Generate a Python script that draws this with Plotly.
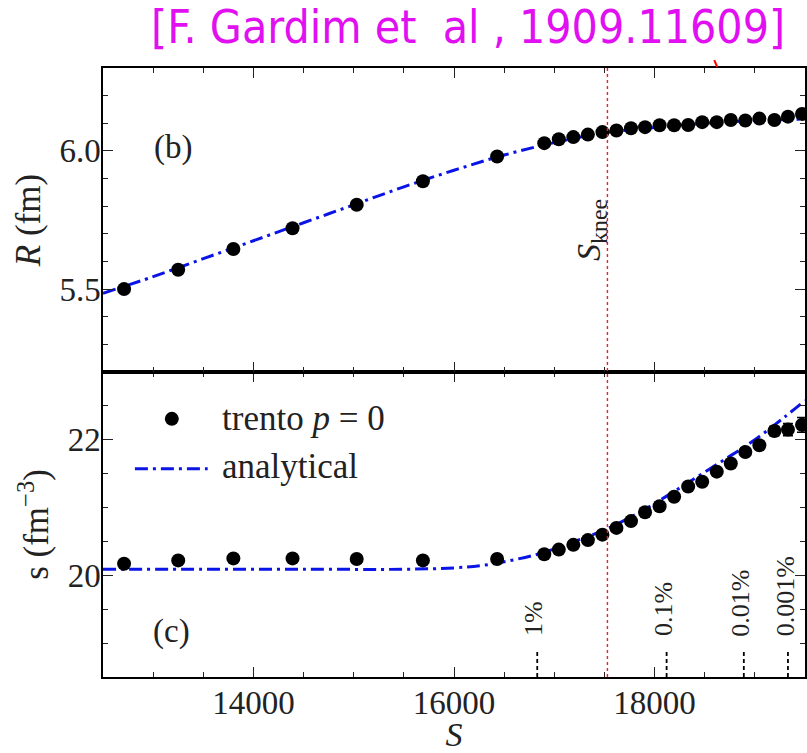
import plotly.graph_objects as go

# trento (p = 0) results versus total entropy S
S_trento = [12710, 13250, 13800, 14390, 15030, 15690, 16430, 16900, 17045, 17190,
            17335, 17480, 17620, 17765, 17905, 18050, 18195, 18335, 18475, 18620,
            18760, 18905, 19045, 19195, 19330, 19470]
R_trento = [5.50, 5.57, 5.645, 5.72, 5.805, 5.89, 5.98, 6.028, 6.042, 6.05,
            6.059, 6.068, 6.074, 6.082, 6.086, 6.093, 6.093, 6.094, 6.104, 6.104,
            6.112, 6.11, 6.117, 6.112, 6.124, 6.134]
s_trento = [20.17, 20.22, 20.25, 20.25, 20.24, 20.22, 20.24, 20.31, 20.38, 20.45,
            20.52, 20.60, 20.70, 20.80, 20.93, 21.02, 21.16, 21.31, 21.38, 21.53,
            21.65, 21.82, 21.92, 22.13, 22.15, 22.22]
s_trento_err = [0, 0, 0, 0, 0, 0, 0, 0, 0, 0,
                0, 0, 0, 0, 0, 0, 0, 0, 0, 0,
                0, 0.03, 0.05, 0.07, 0.09, 0.11]

# analytical curves
S_curve_R = [12500, 13000, 13500, 14000, 14500, 15000, 15500, 16000, 16500,
             17000, 17500, 18000, 18500, 19000, 19500]
R_curve = [5.485, 5.545, 5.61, 5.675, 5.74, 5.805, 5.87, 5.93, 5.985,
           6.03, 6.065, 6.085, 6.10, 6.11, 6.115]
S_curve_s = [12500, 13500, 14500, 15500, 16000, 16300, 16600, 16900, 17200,
             17500, 17800, 18100, 18400, 18700, 19000, 19300, 19500]
s_curve = [20.09, 20.09, 20.09, 20.09, 20.11, 20.15, 20.23, 20.34, 20.50,
           20.67, 20.89, 21.15, 21.43, 21.71, 22.0, 22.34, 22.58]

# knee position and centrality markers
S_knee = 17530
cent_S = [16830, 18120, 18890, 19330]
cent_labels = ["1%", "0.1%", "0.01%", "0.001%"]

SERIF = "Liberation Serif"
BLUE = "#0a14e6"
DASHDOT = "13px,5px,3px,5px"
INK = "#222"

fig = go.Figure()

fig.add_trace(go.Scatter(x=S_curve_R, y=R_curve, mode="lines", line_shape="spline",
                         line=dict(color=BLUE, width=3, dash=DASHDOT),
                         xaxis="x2", yaxis="y2", showlegend=False))
fig.add_trace(go.Scatter(x=S_trento, y=R_trento, mode="markers",
                         marker=dict(color="black", size=14),
                         xaxis="x2", yaxis="y2", showlegend=False))

fig.add_trace(go.Scatter(x=S_curve_s, y=s_curve, mode="lines", line_shape="spline",
                         line=dict(color=BLUE, width=3, dash=DASHDOT),
                         xaxis="x", yaxis="y", showlegend=False))
fig.add_trace(go.Scatter(x=S_trento, y=s_trento, mode="markers",
                         marker=dict(color="black", size=14),
                         error_y=dict(type="data", array=s_trento_err, color="black",
                                      thickness=1.5, width=5),
                         xaxis="x", yaxis="y", showlegend=False))

axis_common = dict(showline=True, linecolor="black", linewidth=1.5, mirror="allticks",
                   ticks="inside", ticklen=10, tickwidth=1.3, tickcolor=INK,
                   showgrid=False, zeroline=False)
x_font = dict(family=SERIF, size=33, color=INK)
y_font = dict(family=SERIF, size=33, color=INK)

fig.update_layout(
    width=807, height=753,
    margin=dict(l=103, r=0, t=68, b=74),
    paper_bgcolor="white", plot_bgcolor="white",
    xaxis=dict(domain=[0, 1], anchor="y", range=[12500, 19500], tick0=14000, dtick=2000,
               tickformat="d", tickfont=x_font, ticklabelstandoff=-4,
               minor=dict(dtick=500, tick0=12500, ticks="inside", ticklen=5, tickcolor=INK),
               title=dict(text="<i>S</i>", font=dict(family=SERIF, size=34, color=INK),
                          standoff=8),
               **axis_common),
    yaxis=dict(domain=[0, 0.5008], anchor="x", range=[18.5, 23], tick0=20, dtick=2,
               tickfont=y_font, ticklabelstandoff=-6,
               minor=dict(dtick=0.5, tick0=18.5, ticks="inside", ticklen=5, tickcolor=INK),
               title=dict(text="s (fm<sup>−3</sup>)",
                          font=dict(family=SERIF, size=35, color=INK), standoff=8),
               **axis_common),
    xaxis2=dict(domain=[0, 1], anchor="y2", matches="x", range=[12500, 19500],
                tick0=14000, dtick=2000, showticklabels=False,
                minor=dict(dtick=500, tick0=12500, ticks="inside", ticklen=5, tickcolor=INK),
                **axis_common),
    yaxis2=dict(domain=[0.5008, 1], anchor="x2", range=[5.2, 6.3], tick0=5.5, dtick=0.5,
                tickformat=".1f", tickfont=y_font, ticklabelstandoff=-6,
                minor=dict(dtick=0.1, tick0=5.2, ticks="inside", ticklen=5, tickcolor=INK),
                title=dict(text="<i>R</i> (fm)",
                           font=dict(family=SERIF, size=35, color=INK), standoff=8),
                **axis_common),
    showlegend=False,
)

shapes = []
# knee line through both panels
shapes.append(dict(type="line", xref="x", yref="paper", x0=S_knee, x1=S_knee, y0=0, y1=1,
                   line=dict(color="#ff1a1a", width=1.4, dash="dot")))
# centrality markers at the bottom of panel (c)
for xs in cent_S:
    shapes.append(dict(type="line", xref="x", yref="y", x0=xs, x1=xs, y0=18.5, y1=18.89,
                       line=dict(color="black", width=1.8, dash="4px,3px")))

# legend drawn inside panel (c), positioned in pixels
def px_x(p):
    return (p - 103) / 704.0

def px_y(p):
    return (679 - p) / 611.0

shapes.append(dict(type="circle", xref="paper", yref="paper", xsizemode="pixel",
                   ysizemode="pixel", xanchor=px_x(172), yanchor=px_y(420),
                   x0=-7, x1=7, y0=-7, y1=7, fillcolor="black",
                   line=dict(color="black", width=0)))
shapes.append(dict(type="line", xref="paper", yref="paper", x0=px_x(135), x1=px_x(208),
                   y0=px_y(470), y1=px_y(470),
                   line=dict(color=BLUE, width=3, dash=DASHDOT)))
# fragment of the curve from the panel above
shapes.append(dict(type="line", xref="paper", yref="paper", x0=px_x(716), x1=px_x(719),
                   y0=px_y(60), y1=px_y(67), line=dict(color="red", width=2)))
fig.update_layout(shapes=shapes)

annotations = [
    dict(text="[F. Gardim et\u00a0\u00a0al , 1909.11609]", xref="paper", yref="paper",
         x=px_x(469), y=px_y(27), xanchor="center", yanchor="middle", showarrow=False,
         font=dict(family="DejaVu Sans Condensed, DejaVu Sans", size=46, color="#e010f0")),
    dict(text="(b)", xref="paper", yref="paper", x=px_x(173), y=px_y(148),
         xanchor="center", yanchor="middle",
         showarrow=False, font=dict(family=SERIF, size=33, color=INK)),
    dict(text="(c)", xref="paper", yref="paper", x=px_x(172), y=px_y(633),
         xanchor="center", yanchor="middle",
         showarrow=False, font=dict(family=SERIF, size=33, color=INK)),
    dict(text="<i>S</i><sub>knee</sub>", xref="x2", yref="paper", x=S_knee, xshift=-16,
         y=px_y(230), xanchor="center", yanchor="middle", textangle=-90, showarrow=False,
         font=dict(family=SERIF, size=34, color=INK)),
    dict(text="trento <i>p</i> = 0", xref="paper", yref="paper", x=px_x(220), y=px_y(420),
         xanchor="left", yanchor="middle", showarrow=False,
         font=dict(family=SERIF, size=35, color=INK)),
    dict(text="analytical", xref="paper", yref="paper", x=px_x(220), y=px_y(468),
         xanchor="left", yanchor="middle", showarrow=False,
         font=dict(family=SERIF, size=35, color=INK)),
]
for xs, lab in zip(cent_S, cent_labels):
    annotations.append(dict(text=lab, xref="x", yref="y", x=xs, xshift=-3, y=19.07,
                            xanchor="center", yanchor="bottom", textangle=-90,
                            showarrow=False,
                            font=dict(family=SERIF, size=26, color=INK)))
fig.update_layout(annotations=annotations)

fig.write_html("out.html")
